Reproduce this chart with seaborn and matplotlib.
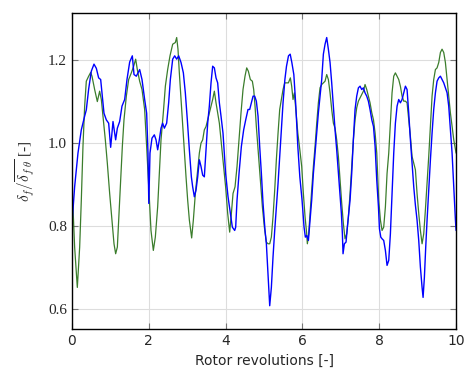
import numpy as np
import pandas as pd
import matplotlib
matplotlib.use("Agg")
import matplotlib.pyplot as plt
import seaborn as sns

# ---- data ----
blue_x = [0.0, 0.069, 0.156, 0.243, 0.33, 0.373, 0.434, 0.503, 0.573, 0.634, 0.694, 0.747, 0.79, 0.833,
          0.894, 0.955, 1.007, 1.068, 1.137, 1.181, 1.241, 1.302, 1.372, 1.432, 1.502, 1.571, 1.615, 1.675,
          1.762, 1.823, 1.892, 1.944, 1.979, 2.0, 2.031, 2.083, 2.144, 2.188, 2.231, 2.274, 2.318, 2.361,
          2.405, 2.465, 2.517, 2.561, 2.622, 2.674, 2.726, 2.778, 2.839, 2.9, 2.951, 3.003, 3.056, 3.108,
          3.142, 3.186, 3.229, 3.273, 3.316, 3.359, 3.403, 3.446, 3.49, 3.533, 3.576, 3.62, 3.663, 3.707,
          3.75, 3.793, 3.837, 3.88, 3.932, 4.0, 4.063, 4.123, 4.175, 4.236, 4.262, 4.297, 4.349, 4.41, 4.47,
          4.523, 4.583, 4.627, 4.67, 4.714, 4.757, 4.8, 4.844, 4.887, 4.931, 4.974, 5.026, 5.061, 5.104,
          5.148, 5.191, 5.234, 5.278, 5.321, 5.365, 5.408, 5.451, 5.495, 5.543, 5.585, 5.637, 5.681, 5.724,
          5.776, 5.828, 5.88, 5.932, 5.99, 6.042, 6.076, 6.111, 6.155, 6.198, 6.241, 6.285, 6.328, 6.372,
          6.415, 6.458, 6.502, 6.545, 6.589, 6.632, 6.675, 6.719, 6.762, 6.806, 6.849, 6.892, 6.936, 6.979,
          7.014, 7.04, 7.057, 7.092, 7.135, 7.17, 7.205, 7.24, 7.283, 7.326, 7.37, 7.413, 7.457, 7.5, 7.543,
          7.587, 7.63, 7.674, 7.717, 7.76, 7.806, 7.85, 7.892, 7.935, 7.979, 8.005, 8.04, 8.073, 8.116,
          8.16, 8.203, 8.247, 8.29, 8.333, 8.377, 8.42, 8.464, 8.507, 8.55, 8.594, 8.637, 8.681, 8.724,
          8.767, 8.811, 8.854, 8.898, 8.941, 8.984, 9.028, 9.071, 9.115, 9.141, 9.175, 9.21, 9.245, 9.288,
          9.332, 9.375, 9.418, 9.462, 9.505, 9.549, 9.592, 9.635, 9.679, 9.722, 9.766, 9.809, 9.852, 9.896,
          9.94, 9.983, 10.0]
blue_y = [0.806, 0.895, 0.976, 1.032, 1.065, 1.08, 1.13, 1.173, 1.19, 1.18, 1.157, 1.153, 1.113, 1.072,
          1.056, 1.048, 0.99, 1.052, 1.008, 1.036, 1.052, 1.089, 1.105, 1.153, 1.195, 1.21, 1.165, 1.161,
          1.177, 1.153, 1.105, 1.072, 0.976, 0.855, 0.976, 1.012, 1.02, 1.008, 0.984, 1.008, 1.036, 1.048,
          1.036, 1.048, 1.097, 1.153, 1.202, 1.21, 1.202, 1.21, 1.194, 1.169, 1.121, 1.056, 0.984, 0.919,
          0.895, 0.871, 0.887, 0.919, 0.96, 0.944, 0.923, 0.919, 0.984, 1.048, 1.089, 1.145, 1.185, 1.181,
          1.157, 1.145, 1.097, 1.065, 1.024, 0.927, 0.871, 0.831, 0.798, 0.79, 0.798, 0.863, 0.927, 0.992,
          1.032, 1.056, 1.081, 1.081, 1.097, 1.113, 1.113, 1.101, 1.065, 0.992, 0.927, 0.855, 0.79, 0.758,
          0.685, 0.609, 0.653, 0.726, 0.79, 0.847, 0.903, 0.968, 1.032, 1.097, 1.153, 1.185, 1.21, 1.214,
          1.194, 1.165, 1.089, 0.992, 0.919, 0.863, 0.798, 0.774, 0.778, 0.766, 0.815, 0.863, 0.927, 0.976,
          1.024, 1.073, 1.113, 1.153, 1.214, 1.238, 1.254, 1.226, 1.194, 1.145, 1.089, 1.032, 0.984, 0.927,
          0.875, 0.831, 0.782, 0.734, 0.758, 0.762, 0.798, 0.831, 0.863, 0.927, 1.008, 1.081, 1.113, 1.133,
          1.137, 1.129, 1.133, 1.121, 1.113, 1.101, 1.081, 1.056, 1.04, 0.992, 0.911, 0.847, 0.794, 0.774,
          0.77, 0.766, 0.742, 0.706, 0.718, 0.782, 0.879, 0.976, 1.048, 1.089, 1.105, 1.097, 1.105, 1.121,
          1.137, 1.129, 1.073, 1.008, 0.952, 0.895, 0.851, 0.815, 0.766, 0.702, 0.653, 0.629, 0.677, 0.75,
          0.815, 0.887, 0.96, 1.024, 1.081, 1.121, 1.149, 1.157, 1.161, 1.153, 1.145, 1.133, 1.121, 1.089,
          1.032, 0.976, 0.895, 0.815, 0.79]

green_x = [0.0, 0.069, 0.139, 0.2, 0.243, 0.286, 0.33, 0.373, 0.434, 0.486, 0.521, 0.59, 0.66, 0.72,
           0.764, 0.807, 0.868, 0.92, 0.981, 1.042, 1.094, 1.137, 1.181, 1.224, 1.267, 1.311, 1.354,
           1.415, 1.476, 1.545, 1.606, 1.658, 1.701, 1.762, 1.823, 1.892, 1.944, 1.997, 2.057, 2.118,
           2.17, 2.231, 2.274, 2.318, 2.378, 2.431, 2.491, 2.552, 2.622, 2.691, 2.726, 2.76, 2.795,
           2.839, 2.882, 2.925, 2.969, 3.012, 3.056, 3.116, 3.16, 3.212, 3.273, 3.316, 3.359, 3.403,
           3.446, 3.49, 3.533, 3.576, 3.62, 3.663, 3.707, 3.75, 3.793, 3.837, 3.88, 3.932, 4.0, 4.054,
           4.106, 4.15, 4.193, 4.245, 4.297, 4.349, 4.401, 4.453, 4.505, 4.549, 4.592, 4.644, 4.696,
           4.731, 4.766, 4.8, 4.852, 4.905, 4.957, 5.009, 5.061, 5.104, 5.148, 5.191, 5.234, 5.278,
           5.321, 5.365, 5.408, 5.451, 5.495, 5.538, 5.581, 5.634, 5.686, 5.72, 5.755, 5.79, 5.828,
           5.88, 5.932, 5.981, 6.024, 6.068, 6.111, 6.128, 6.163, 6.198, 6.241, 6.285, 6.328, 6.372,
           6.415, 6.458, 6.502, 6.545, 6.589, 6.632, 6.675, 6.719, 6.762, 6.806, 6.849, 6.892, 6.936,
           6.979, 7.023, 7.066, 7.109, 7.153, 7.196, 7.24, 7.283, 7.326, 7.37, 7.413, 7.457, 7.5,
           7.543, 7.587, 7.63, 7.674, 7.717, 7.76, 7.806, 7.85, 7.892, 7.935, 7.986, 8.03, 8.073,
           8.116, 8.16, 8.203, 8.247, 8.29, 8.333, 8.377, 8.42, 8.464, 8.507, 8.55, 8.594, 8.637,
           8.681, 8.724, 8.767, 8.811, 8.854, 8.898, 8.941, 8.984, 9.028, 9.071, 9.115, 9.158, 9.201,
           9.245, 9.288, 9.332, 9.375, 9.418, 9.462, 9.505, 9.549, 9.592, 9.635, 9.679, 9.722, 9.766,
           9.809, 9.852, 9.896, 9.94, 10.0]
green_y = [0.903, 0.75, 0.653, 0.75, 0.863, 0.992, 1.089, 1.149, 1.161, 1.17, 1.161, 1.129, 1.1, 1.125,
           1.105, 1.065, 1.008, 0.952, 0.879, 0.815, 0.758, 0.734, 0.75, 0.831, 0.911, 0.992, 1.056,
           1.113, 1.153, 1.169, 1.185, 1.202, 1.177, 1.149, 1.129, 1.081, 0.992, 0.895, 0.79, 0.742,
           0.774, 0.847, 0.927, 1.008, 1.073, 1.137, 1.177, 1.21, 1.238, 1.242, 1.254, 1.226, 1.169,
           1.105, 1.04, 0.976, 0.919, 0.863, 0.815, 0.772, 0.815, 0.879, 0.936, 0.976, 1.0, 1.008,
           1.032, 1.04, 1.056, 1.073, 1.089, 1.105, 1.125, 1.097, 1.073, 1.048, 1.008, 0.96, 0.895, 0.831,
           0.786, 0.831, 0.879, 0.895, 0.944, 1.008, 1.073, 1.129, 1.161, 1.181, 1.173, 1.153, 1.149,
           1.129, 1.089, 1.04, 0.976, 0.911, 0.847, 0.798, 0.762, 0.758, 0.758, 0.774, 0.823, 0.887,
           0.96, 1.024, 1.081, 1.105, 1.129, 1.145, 1.145, 1.145, 1.157, 1.137, 1.105, 1.121, 1.081,
           1.024, 0.984, 0.944, 0.879, 0.823, 0.782, 0.758, 0.782, 0.831, 0.887, 0.944, 0.992, 1.048,
           1.097, 1.133, 1.141, 1.145, 1.149, 1.165, 1.153, 1.121, 1.081, 1.048, 1.036, 1.008, 0.968,
           0.911, 0.855, 0.806, 0.77, 0.782, 0.823, 0.879, 0.944, 1.008, 1.056, 1.085, 1.101, 1.109,
           1.117, 1.125, 1.141, 1.129, 1.113, 1.097, 1.073, 1.056, 1.024, 0.976, 0.863, 0.815, 0.79,
           0.798, 0.847, 0.927, 0.976, 1.048, 1.121, 1.161, 1.169, 1.161, 1.153, 1.137, 1.113, 1.101,
           1.101, 1.097, 1.056, 1.016, 0.968, 0.952, 0.936, 0.879, 0.831, 0.79, 0.758, 0.782, 0.839,
           0.903, 0.968, 1.04, 1.113, 1.153, 1.177, 1.181, 1.194, 1.218, 1.226, 1.218, 1.194, 1.153,
           1.113, 1.073, 1.04, 1.008, 0.976]

x_ticks = [0, 2, 4, 6, 8, 10]
y_ticks = [0.6, 0.8, 1.0, 1.2]
y_tick_labels = ["0.6", "0.8", "1.0", "1.2"]

sns.set_style("white")
plt.rcParams["mathtext.fontset"] = "cm"

fig = plt.figure(figsize=(4.65, 3.78), dpi=100)
ax = fig.add_axes([0.1548, 0.1296, 0.826, 0.836])

green_df = pd.DataFrame({"x": green_x, "y": green_y})
blue_df = pd.DataFrame({"x": blue_x, "y": blue_y})
sns.lineplot(data=green_df, x="x", y="y", ax=ax, color="#3b7d2c", linewidth=0.9, sort=False)
sns.lineplot(data=blue_df, x="x", y="y", ax=ax, color="#0000ff", linewidth=1.0, sort=False)

ax.set_xlim(0, 10)
ax.set_ylim(0.553, 1.313)
ax.set_xticks(x_ticks)
ax.set_xticklabels([str(t) for t in x_ticks], fontsize=10, family="DejaVu Sans")
ax.set_yticks(y_ticks)
ax.set_yticklabels(y_tick_labels, fontsize=11, family="Liberation Serif")
ax.grid(True, color="#dddddd", linewidth=0.8)
ax.set_axisbelow(True)
ax.tick_params(direction="in", length=4, width=0.8, color="#777777",
               top=True, right=True, bottom=True, left=True)
for s in ax.spines.values():
    s.set_color("black")
    s.set_linewidth(1.0)

ax.set_xlabel("Rotor revolutions [-]", fontsize=10, family="DejaVu Sans", labelpad=4)
ax.set_ylabel(r"$\delta_f/\overline{\delta_{f\;\theta}}$ [-]", fontsize=11, family="Liberation Serif", labelpad=8)

fig.savefig("out.png", dpi=100)
